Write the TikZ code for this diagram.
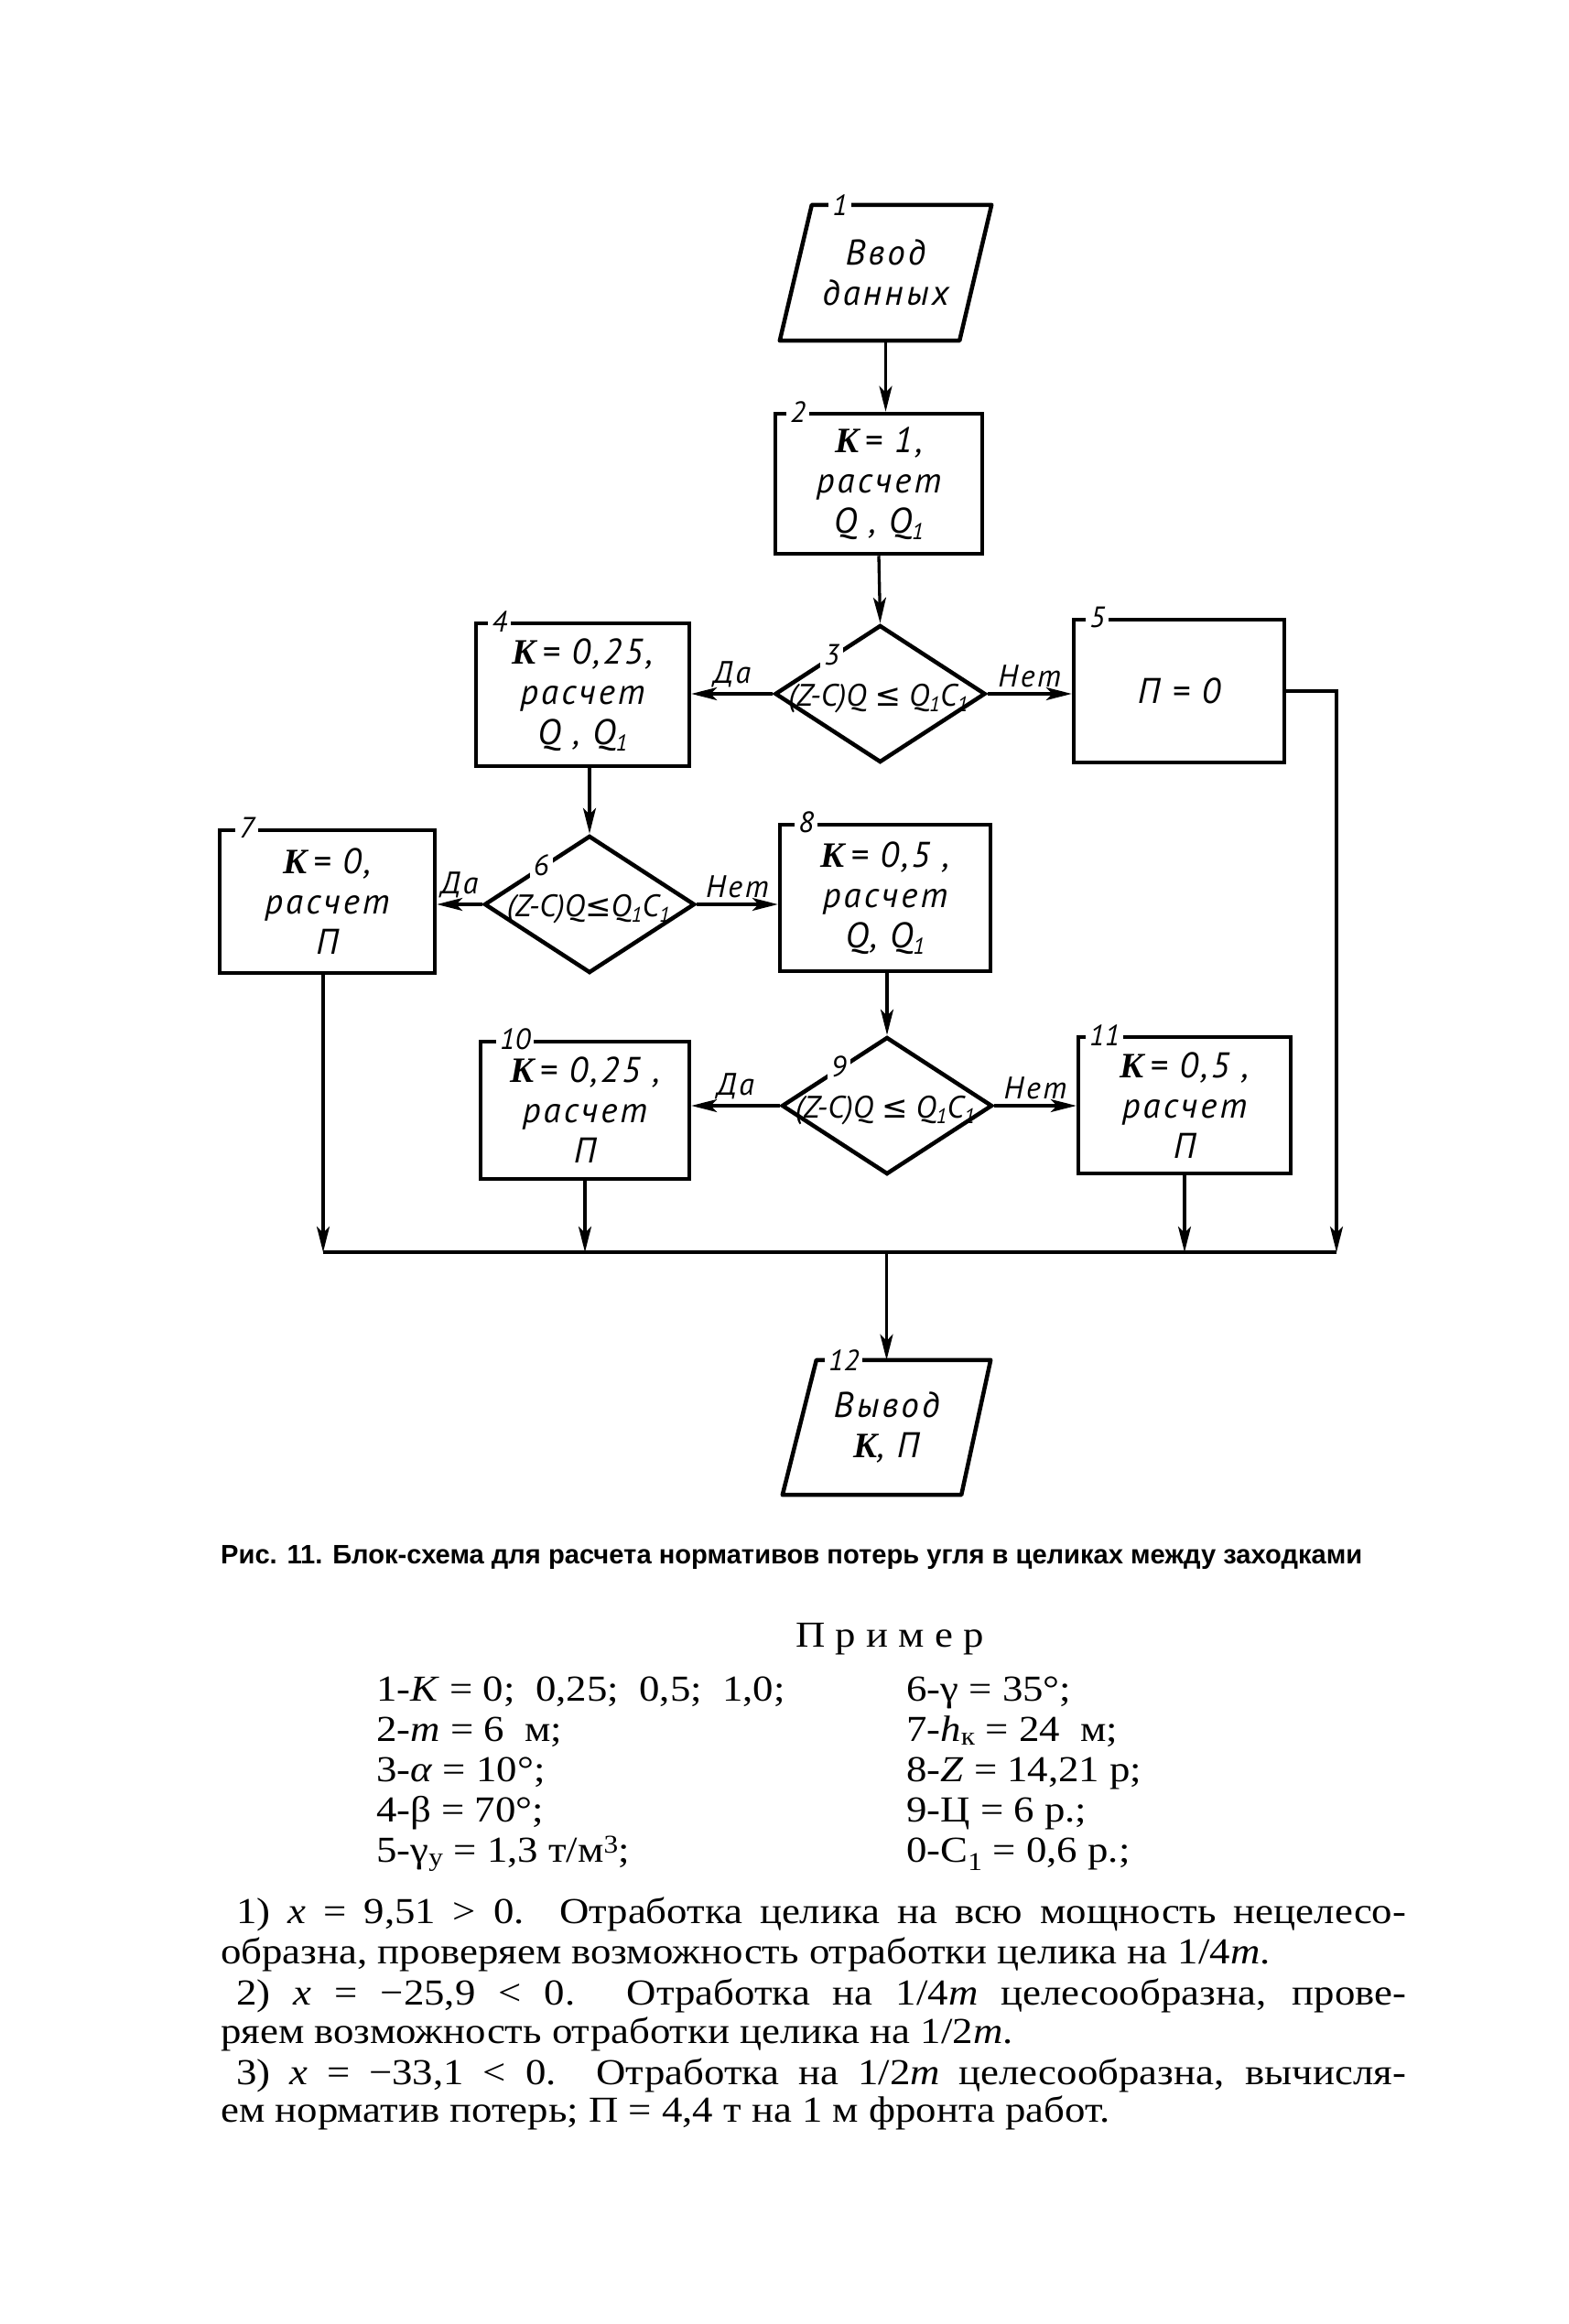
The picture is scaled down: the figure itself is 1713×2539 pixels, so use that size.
\documentclass[tikz,border=0pt]{standalone}
\usepackage{fontspec}
\usepackage{graphicx}
\usetikzlibrary{shapes.geometric,arrows.meta,calc}
\newfontfamily\fcfont[LetterSpace=8]{PT Sans}
\newfontfamily\fcnum{PT Sans}
\newfontfamily\kfnt{Liberation Serif}
\newfontfamily\djv{DejaVu Sans}
\newfontfamily\bodyfont[FakeStretch=1.12]{Liberation Serif}
\newfontfamily\capfont{Liberation Sans}
\newcommand\KK{{\kfnt\bfseries\itshape K}}
\newcommand\lsub[1]{\raisebox{-0.35ex}{\fontsize{25}{25}\selectfont #1}}
\newcommand\lsubd[1]{\raisebox{-0.35ex}{\fontsize{23}{23}\selectfont #1}}
\tikzset{
  boxnode/.style={draw, rectangle, line width=4.5pt, align=center, inner sep=0pt,
    font=\fcfont\itshape\fontsize{39}{44}\selectfont},
  paranode/.style={rectangle, align=center, inner sep=0pt,
    font=\fcfont\itshape\fontsize{39}{44}\selectfont},
  dianode/.style={draw, diamond, line width=4.5pt, minimum width=230pt, minimum height=150pt, inner sep=0pt},
  diatext/.style={inner sep=0pt, font=\fcnum\itshape\fontsize{34}{34}\selectfont},
  numlbl/.style={fill=white, inner sep=4pt, font=\fcnum\itshape\fontsize{32}{32}\selectfont},
  elab/.style={above, inner sep=5pt, font=\fcfont\itshape\fontsize{34}{34}\selectfont},
  conn/.style={line width=3.3pt, -{Stealth[length=28pt,width=14pt,inset=7pt]}},
  plainline/.style={line width=3.3pt},
  outline/.style={line width=4.5pt, line join=round},
  bodytxt/.style={inner sep=0pt, anchor=base west, font=\bodyfont\fontsize{40}{44}\selectfont},
}
\begin{document}
\begin{tikzpicture}[x=1pt,y=-1pt]
\fill[white] (0,0) rectangle (1713,2539);
\useasboundingbox (0,0) rectangle (1713,2539);

% 1: input parallelogram
\node[paranode, minimum width=231pt, minimum height=148pt] (p1) at (967.5,298) {Ввод\\данных};
\draw[outline] ($(p1.north west)+(35,0)$) -- (p1.north east) -- ($(p1.south east)-(35,0)$) -- (p1.south west) -- cycle;
\node[numlbl] (n1) at ($(p1.north west)+(66,0)$) {1};

% 2
\node[boxnode, minimum width=226pt, minimum height=153pt] (b2) at (960,528.5) {\KK\,= 1,\\расчет\\Q , Q\lsub{1}};
\node[numlbl] (n2) at ($(b2.north west)+(27,0)$) {2};

% 3
\node[dianode] (d3) at (961.5,758) {};
\node[diatext] (t3) at ($(d3.center)+(-2,5)$) {(Z-C)Q {\djv\itshape ≤} Q\lsubd{1}C\lsubd{1}};
\node[numlbl] (n3) at ($(d3.west)!0.55!(d3.north)$) {3};

% 4
\node[boxnode, minimum width=233pt, minimum height=156pt] (b4) at (636.5,759) {\KK\,= 0,25,\\расчет\\Q , Q\lsub{1}};
\node[numlbl] (n4) at ($(b4.north west)+(28,0)$) {4};

% 5
\node[boxnode, minimum width=230pt, minimum height=156pt] (b5) at (1288,755) {П = 0};
\node[numlbl] (n5) at ($(b5.north west)+(28,0)$) {5};

% 6
\node[dianode] (d6) at (644,988) {};
\node[diatext] (t6) at ($(d6.center)+(-1,5)$) {(Z-C)Q{\djv\itshape ≤}Q\lsubd{1}C\lsubd{1}};
\node[numlbl] (n6) at ($(d6.west)!0.55!(d6.north)$) {6};

% 7
\node[boxnode, minimum width=235pt, minimum height=156pt] (b7) at (357.5,985) {\KK\,= 0,\\расчет\\П};
\node[numlbl] (n7) at ($(b7.north west)+(32,0)$) {7};

% 8
\node[boxnode, minimum width=230pt, minimum height=160pt] (b8) at (967,981) {\KK\,= 0,5 ,\\расчет\\Q, Q\lsub{1}};
\node[numlbl] (n8) at ($(b8.north west)+(31,0)$) {8};

% 9
\node[dianode] (d9) at (969,1208) {};
\node[diatext] (t9) at ($(d9.center)+(-2,5)$) {(Z-C)Q {\djv\itshape ≤} Q\lsubd{1}C\lsubd{1}};
\node[numlbl] (n9) at ($(d9.west)!0.55!(d9.north)$) {9};

% 10
\node[boxnode, minimum width=228pt, minimum height=150pt] (b10) at (639,1213) {\KK\,= 0,25 ,\\расчет\\П};
\node[numlbl] (n10) at ($(b10.north west)+(40,0)$) {10};

% 11
\node[boxnode, minimum width=232pt, minimum height=149pt] (b11) at (1294,1207.5) {\KK\,= 0,5 ,\\расчет\\П};
\node[numlbl] (n11) at ($(b11.north west)+(31,0)$) {11};

% 12: output parallelogram
\node[paranode, minimum width=227pt, minimum height=147pt] (p12) at (968.5,1559.5) {Вывод\\\KK, П};
\draw[outline] ($(p12.north west)+(37,0)$) -- (p12.north east) -- ($(p12.south east)-(32,0)$) -- (p12.south west) -- cycle;
\node[numlbl] (n12) at ($(p12.north west)+(67,0)$) {12};

% collector coordinates
\coordinate (cl) at (353,1368);
\coordinate (cr) at (1460,1368);

% connectors
\draw[conn] (p1.south) -- (p1.south |- b2.north);
\draw[conn] (b2.south) -- (d3.north);
\draw[conn] (d3.west) -- (d3.west -| b4.east) node[elab, midway] (l3a) {Да};
\draw[conn] (d3.east) -- (d3.east -| b5.west) node[elab, midway] (l3b) {Нет};
\draw[conn] (d6.north |- b4.south) -- (d6.north);
\draw[conn] (d6.west) -- (d6.west -| b7.east) node[elab, midway] (l6a) {Да};
\draw[conn] (d6.east) -- (d6.east -| b8.west) node[elab, midway] (l6b) {Нет};
\draw[conn] (d9.north |- b8.south) -- (d9.north);
\draw[conn] (d9.west) -- (d9.west -| b10.east) node[elab, midway] (l9a) {Да};
\draw[conn] (d9.east) -- (d9.east -| b11.west) node[elab, midway] (l9b) {Нет};
\draw[conn] (cl |- b7.south) -- (cl);
\draw[conn] (b10.south) -- (b10.south |- cl);
\draw[conn] (b11.south) -- (b11.south |- cl);
\draw[conn] (b5.east) -- (b5.east -| cr) -- (cr);
\draw[plainline] (cl) -- (cr);
\draw[conn] (p12.north |- cl) -- (p12.north);

% caption
\node[inner sep=0pt, anchor=base west] (cap) at (241,1708) {\resizebox{1247pt}{!}{\capfont\bfseries\fontsize{28}{30}\selectfont Рис. 11. Блок-схема для расчета нормативов потерь угля в целиках между заходками}};

% example heading
\node[inner sep=0pt, anchor=base, font=\bodyfont\fontsize{40}{44}\selectfont] (ex) at (972,1799) {П р и м е р};

% table
\node[bodytxt] (r1a) at (411,1858) {1-\textit{K} = 0;\ \ 0,25;\ \ 0,5;\ \ 1,0;};
\node[bodytxt] (r2a) at (411,1902) {2-\textit{m} = 6\ \ м;};
\node[bodytxt] (r3a) at (411,1946) {3-\textit{α} = 10°;};
\node[bodytxt] (r4a) at (411,1990) {4-β = 70°;};
\node[bodytxt] (r5a) at (411,2034) {5-γ\textsubscript{у} = 1,3 т/м\textsuperscript{3};};
\node[bodytxt] (r1b) at (990,1858) {6-γ = 35°;};
\node[bodytxt] (r2b) at (990,1902) {7-\textit{h}\textsubscript{к} = 24\ \ м;};
\node[bodytxt] (r3b) at (990,1946) {8-\textit{Z} = 14,21 р;};
\node[bodytxt] (r4b) at (990,1990) {9-Ц = 6 р.;};
\node[bodytxt] (r5b) at (990,2034) {0-C\textsubscript{1} = 0,6 р.;};

% paragraphs
\node[bodytxt] (L1) at (258,2101) {\makebox[1278pt][s]{1) \textit{x} = 9,51 > 0. Отработка целика на всю мощность нецелесо-}};
\node[bodytxt] (L2) at (241,2145) {образна, проверяем возможность отработки целика на 1/4\textit{m}.};
\node[bodytxt] (L3) at (258,2190) {\makebox[1278pt][s]{2) \textit{x} = −25,9 < 0. Отработка на 1/4\textit{m} целесообразна, прове-}};
\node[bodytxt] (L4) at (241,2232) {ряем возможность отработки целика на 1/2\textit{m}.};
\node[bodytxt] (L5) at (258,2277) {\makebox[1278pt][s]{3) \textit{x} = −33,1 < 0. Отработка на 1/2\textit{m} целесообразна, вычисля-}};
\node[bodytxt] (L6) at (241,2318) {ем норматив потерь; П = 4,4 т на 1 м фронта работ.};
\end{tikzpicture}
\end{document}
